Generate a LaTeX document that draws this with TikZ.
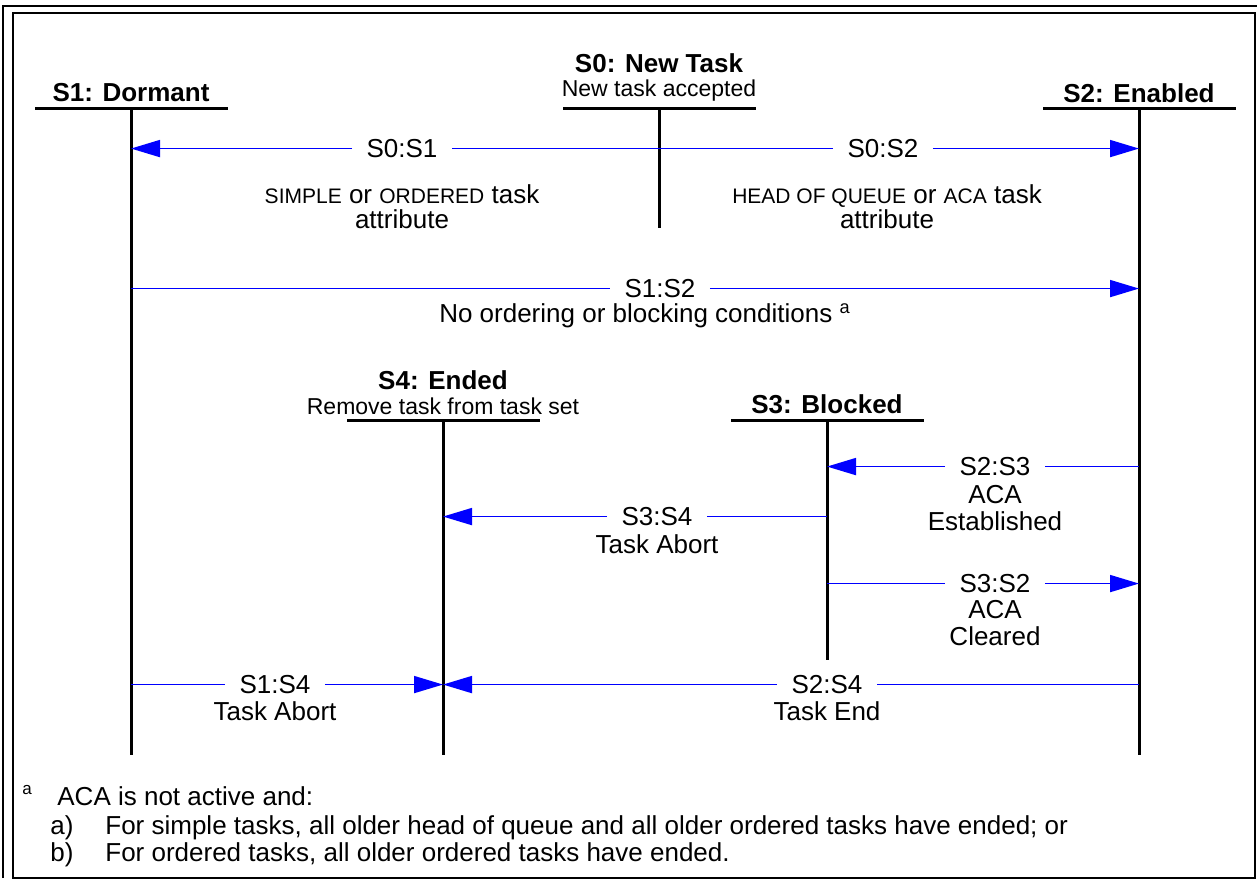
\documentclass[tikz,border=0pt]{standalone}
\usepackage{fontspec}
\setmainfont{Liberation Sans}
\usetikzlibrary{arrows.meta,positioning,calc}
\definecolor{msgblue}{HTML}{0000FF}
\newcommand{\capsm}[1]{{\fontsize{10.5}{12}\selectfont #1}}

\begin{document}
\begin{tikzpicture}[x=0.5pt,y=-0.5pt,
  head/.style={font=\fontsize{13}{15}\selectfont\bfseries,anchor=base,inner sep=0pt},
  sub/.style={font=\fontsize{11.5}{13}\selectfont,anchor=base,inner sep=0pt},
  tag/.style={font=\fontsize{13}{15}\selectfont,anchor=base,inner xsep=7pt,inner ysep=0pt},
  note/.style={font=\fontsize{13}{15}\selectfont,anchor=base,inner sep=0pt},
  fn/.style={font=\fontsize{13}{15}\selectfont,anchor=base west,inner sep=0pt},
  bar/.style={line width=1.5pt},
  life/.style={line width=1.5pt},
  msg/.style={draw=msgblue,line width=0.9pt},
  arr/.style={msg,-{Triangle[length=14.5pt,width=8.5pt]}},
  frame/.style={line width=1pt}]
  \useasboundingbox (0,0) rectangle (1257,880);
  % frame
  \draw[frame] (3,878) -- (3,6) -- (1257,6);
  \draw[frame] (13,13) rectangle (1255,878);

  % lifelines
  \node[head] (s1) at (131,101) {S1: Dormant};
  \coordinate (s1top) at (131,108);
  \coordinate (s1end) at (131,755);
  \node[head] (s0) at (659,72) {S0: New Task};
  \node[sub] (s0d) at (659,96) {New task accepted};
  \coordinate (s0top) at (659,108);
  \coordinate (s0end) at (659,228);
  \node[head] (s2) at (1139,102) {S2: Enabled};
  \coordinate (s2top) at (1139,108);
  \coordinate (s2end) at (1139,755);
  \node[head] (s4) at (443,389) {S4: Ended};
  \node[sub] (s4d) at (443,414) {Remove task from task set};
  \coordinate (s4top) at (443,420);
  \coordinate (s4end) at (443,755);
  \node[head] (s3) at (827,413) {S3: Blocked};
  \coordinate (s3top) at (827,420);
  \coordinate (s3end) at (827,660);
  \foreach \s in {s0,s1,s2,s3,s4}{
    \draw[bar] (\s top) ++(-96,0) -- ++(193,0);
    \draw[life] (\s top) -- (\s end);
  }

  % S0 -> S1, S0 -> S2
  \node[tag] (m01) at (402,157.5) {S0:S1};
  \draw[msg] (s0top |- m01) -- (m01.east);
  \draw[arr] (m01.west) -- (s1top |- m01);
  \node[note] (n01) at (402,203) {\capsm{SIMPLE} or \capsm{ORDERED} task};
  \node[note] (n01b) at (402,228) {attribute};
  \node[tag] (m02) at (883,157.5) {S0:S2};
  \draw[msg] (s0top |- m02) -- (m02.west);
  \draw[arr] (m02.east) -- (s2top |- m02);
  \node[note] (n02) at (887,203) {\capsm{HEAD OF QUEUE} or \capsm{ACA} task};
  \node[note] (n02b) at (887,228) {attribute};

  % S1 -> S2
  \node[tag] (m03) at (660,297.5) {S1:S2};
  \draw[msg] (s1top |- m03) -- (m03.west);
  \draw[arr] (m03.east) -- (s2top |- m03);
  \node[note] (n03) at (645,322) {No ordering or blocking conditions\ \textsuperscript{a}};

  % S2 -> S3, S3 -> S4, S3 -> S2
  \node[tag] (m04) at (995,475.5) {S2:S3};
  \draw[msg] (s2top |- m04) -- (m04.east);
  \draw[arr] (m04.west) -- (s3top |- m04);
  \node[note] (n04) at (995,503) {ACA};
  \node[note] (n04b) at (995,530) {Established};
  \node[tag] (m05) at (657,525.5) {S3:S4};
  \draw[msg] (s3top |- m05) -- (m05.east);
  \draw[arr] (m05.west) -- (s4top |- m05);
  \node[note] (n05) at (657,553) {Task Abort};
  \node[tag] (m06) at (995,592.5) {S3:S2};
  \draw[msg] (s3top |- m06) -- (m06.west);
  \draw[arr] (m06.east) -- (s2top |- m06);
  \node[note] (n06) at (995,618) {ACA};
  \node[note] (n06b) at (995,645) {Cleared};

  % -> S4
  \node[tag] (m07) at (275,693.5) {S1:S4};
  \draw[msg] (s1top |- m07) -- (m07.west);
  \draw[arr] (m07.east) -- (s4top |- m07);
  \node[note] (n07) at (275,720) {Task Abort};
  \node[tag] (m08) at (827,693.5) {S2:S4};
  \draw[msg] (s2top |- m08) -- (m08.east);
  \draw[arr] (m08.west) -- (s4top |- m08);
  \node[note] (n08) at (827,720) {Task End};

  % footnote
  \node[fn,font=\fontsize{8.5}{10}\selectfont] (fnmark) at (22,794) {a};
  \node[fn] (fn0) at (57,805) {ACA is not active and:};
  \node[fn] (fna) at (50,834) {a)};
  \node[fn] (fnat) at (105,834) {For simple tasks, all older head of queue and all older ordered tasks have ended; or};
  \node[fn] (fnb) at (50,861) {b)};
  \node[fn] (fnbt) at (105,861) {For ordered tasks, all older ordered tasks have ended.};
\end{tikzpicture}
\end{document}
